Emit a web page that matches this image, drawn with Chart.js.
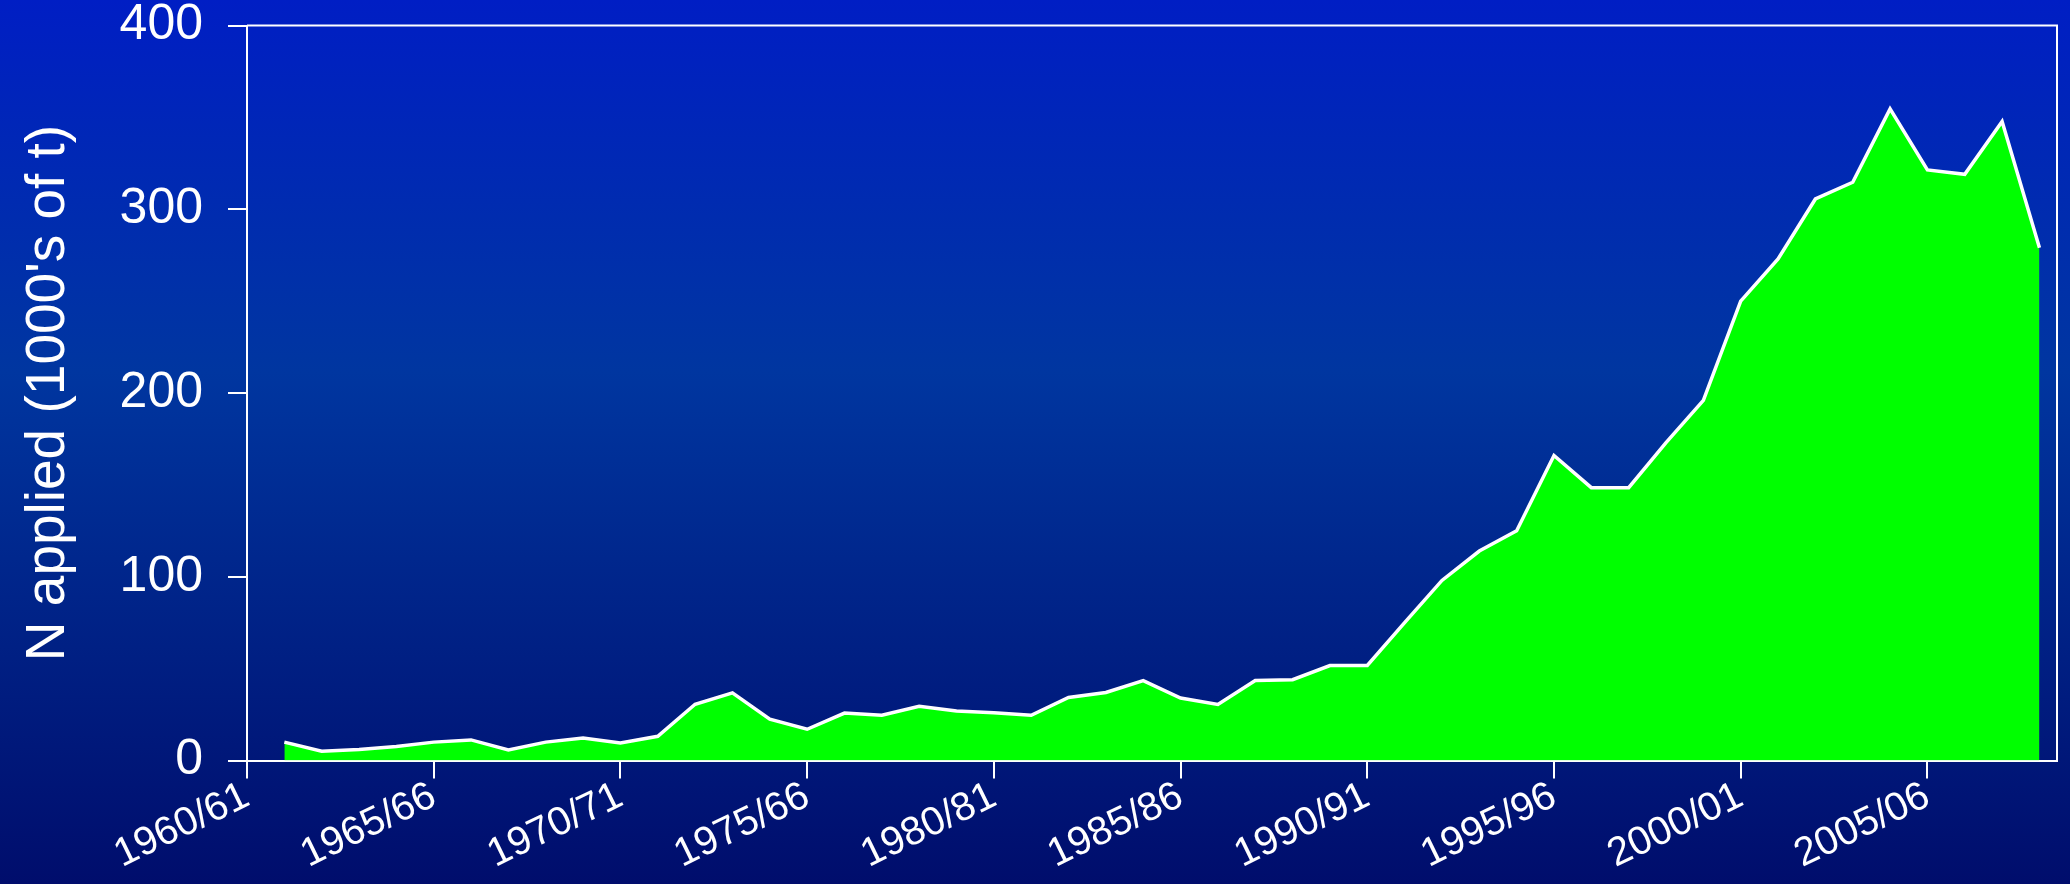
<!DOCTYPE html>
<html>
<head>
<meta charset="utf-8">
<script src="https://cdn.jsdelivr.net/npm/chart.js@4.4.1/dist/chart.umd.min.js"></script>
<style>
    html, body {
        margin: 0;
        padding: 0;
    }
    body {
        width: 2070px;
        height: 884px;
        background: linear-gradient(to bottom, #001ec4 0%, #0036a0 42%, #000d6c 100%);
        overflow: hidden;
    }
    #wrap {
        position: relative;
        width: 2070px;
        height: 884px;
    }
</style>
</head>
<body>
<div id="wrap"><canvas id="myChart"></canvas></div>
<script>
// season start year (1961 = 1961/62 ...)
const years = [1961, 1962, 1963, 1964, 1965, 1966, 1967, 1968, 1969, 1970,
    1971, 1972, 1973, 1974, 1975, 1976, 1977, 1978, 1979, 1980,
    1981, 1982, 1983, 1984, 1985, 1986, 1987, 1988, 1989, 1990,
    1991, 1992, 1993, 1994, 1995, 1996, 1997, 1998, 1999, 2000,
    2001, 2002, 2003, 2004, 2005, 2006, 2007, 2008];

// N applied, 1000's of t
const nApplied = [10, 5.1, 6, 7.6, 10, 11.2, 5.8, 10, 12.3, 9.6,
    13.2, 30.6, 36.8, 22.5, 17, 25.8, 24.6, 29.5, 26.9, 26,
    24.6, 34.3, 37, 43.5, 34, 30.5, 43.5, 44, 51.7, 51.7,
    75, 98, 114, 125, 166, 148.5, 148.5, 173, 196, 250,
    273, 305.6, 314.7, 354.6, 321.4, 319, 347.8, 279];

const tickYears = [1960, 1965, 1970, 1975, 1980, 1985, 1990, 1995, 2000, 2005];
const tickLabels = ['1960/61', '1965/66', '1970/71', '1975/66', '1980/81',
    '1985/86', '1990/91', '1995/96', '2000/01', '2005/06'];
const yTicks = [0, 100, 200, 300, 400];

window.addEventListener('load', function() {
    chartArea();
});

function chartArea() {
    const ctx = document.getElementById('myChart');
    let points = [];
    for (let i = 0; i < years.length; i++) {
        points.push({ x: years[i], y: nApplied[i] });
    }

    // top and right frame lines of the plot box
    const frame = {
        id: 'frame',
        afterDraw(chart) {
            const a = chart.chartArea;
            const c = chart.ctx;
            c.save();
            c.strokeStyle = '#ffffff';
            c.lineWidth = 2;
            c.beginPath();
            c.moveTo(a.left, a.top);
            c.lineTo(a.right, a.top);
            c.lineTo(a.right, a.bottom);
            c.stroke();
            c.restore();
        }
    };

    new Chart(ctx, {
        type: 'line',
        data: {
            datasets: [{
                label: 'N applied',
                data: points,
                borderColor: '#ffffff',
                borderWidth: 3.5,
                backgroundColor: '#00ff00',
                fill: 'origin',
                pointRadius: 0,
                tension: 0
            }]
        },
        options: {
            responsive: true,
            maintainAspectRatio: false,
            animation: false,
            layout: {
                padding: { top: 0, right: 13, bottom: 0, left: 0 }
            },
            plugins: {
                legend: { display: false },
                tooltip: { enabled: false }
            },
            scales: {
                x: {
                    type: 'linear',
                    min: 1960,
                    max: 2008.47,
                    afterBuildTicks: function(scale) {
                        scale.ticks = tickYears.map(v => ({ value: v }));
                    },
                    afterFit: function(scale) {
                        scale.height = 123.5;
                    },
                    ticks: {
                        color: '#ffffff',
                        font: { family: 'Liberation Sans, Arial', size: 40 },
                        maxRotation: 26,
                        minRotation: 26,
                        autoSkip: false,
                        padding: -6,
                        callback: function(value) {
                            const k = tickYears.indexOf(value);
                            return k >= 0 ? tickLabels[k] : '';
                        }
                    },
                    grid: {
                        drawOnChartArea: false,
                        drawTicks: true,
                        tickLength: 18,
                        color: '#ffffff',
                        lineWidth: 2
                    },
                    border: { display: true, color: '#ffffff', width: 2 }
                },
                y: {
                    min: 0,
                    max: 400,
                    afterBuildTicks: function(scale) {
                        scale.ticks = yTicks.map(v => ({ value: v }));
                    },
                    afterFit: function(scale) {
                        scale.width = 247;
                    },
                    ticks: {
                        color: '#ffffff',
                        font: { family: 'Liberation Sans, Arial', size: 50, lineHeight: 0.02 },
                        padding: 25
                    },
                    grid: {
                        drawOnChartArea: false,
                        drawTicks: true,
                        tickLength: 19,
                        color: '#ffffff',
                        lineWidth: 2
                    },
                    border: { display: true, color: '#ffffff', width: 2 },
                    title: {
                        display: true,
                        text: "N applied (1000's of t)",
                        color: '#ffffff',
                        font: { family: 'Liberation Sans, Arial', size: 55 },
                        padding: { top: 16, bottom: 0 }
                    }
                }
            }
        },
        plugins: [frame]
    });
}
</script>
</body>
</html>
